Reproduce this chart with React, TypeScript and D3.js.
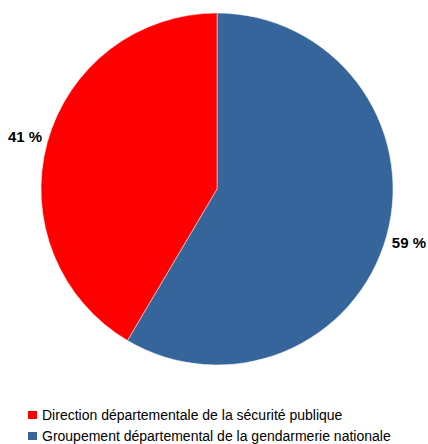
import { useRef, useEffect } from 'react';
import * as d3 from 'd3';

const categories = [
  'Groupement départemental de la gendarmerie nationale',
  'Direction départementale de la sécurité publique',
];
const values = [58.5, 41.5];
const valueLabels = ['59 %', '41 %'];
const colors = ['#35659b', '#ff0000'];
const legendOrder = [1, 0];

export default function App() {
  const svgRef = useRef<SVGSVGElement>(null);

  useEffect(() => {
    const svg = d3.select(svgRef.current);
    svg.selectAll('*').remove();

    const cx = 217, cy = 189, r = 176;
    const g = svg.append('g').attr('transform', `translate(${cx},${cy})`);

    const pie = d3.pie<number>().sort(null).value(d => d);
    const arcs = pie(values);
    const arc = d3.arc<d3.PieArcDatum<number>>().innerRadius(0).outerRadius(r);

    g.selectAll('path')
      .data(arcs)
      .join('path')
      .attr('d', arc)
      .attr('fill', (_, i) => colors[i])
      .attr('stroke', '#fff')
      .attr('stroke-width', 0.5);

    // value labels just outside the rim
    const labelArc = d3.arc<d3.PieArcDatum<number>>().innerRadius(199).outerRadius(199);
    g.selectAll('text')
      .data(arcs)
      .join('text')
      .attr('transform', d => `translate(${labelArc.centroid(d)})`)
      .attr('text-anchor', 'middle')
      .attr('dy', '0.4em')
      .style('font-family', '"Liberation Sans", Arial, sans-serif')
      .style('font-size', '15px')
      .style('font-weight', 'bold')
      .attr('fill', '#000')
      .text((_, i) => valueLabels[i]);

    const legend = svg.append('g').attr('transform', 'translate(28,411)');
    legendOrder.forEach((idx, i) => {
      const row = legend.append('g').attr('transform', `translate(0,${i * 21})`);
      row.append('rect').attr('width', 9).attr('height', 8).attr('fill', colors[idx]);
      row.append('text')
        .attr('x', 14).attr('y', 9)
        .style('font-family', '"Liberation Sans", Arial, sans-serif')
        .style('font-size', '14px')
        .attr('fill', '#000')
        .text(categories[idx]);
    });
  }, []);

  return (
    <svg ref={svgRef} width={428} height={444}
      style={{ position: 'absolute', left: 0, top: 0, background: '#fff' }} />
  );
}
